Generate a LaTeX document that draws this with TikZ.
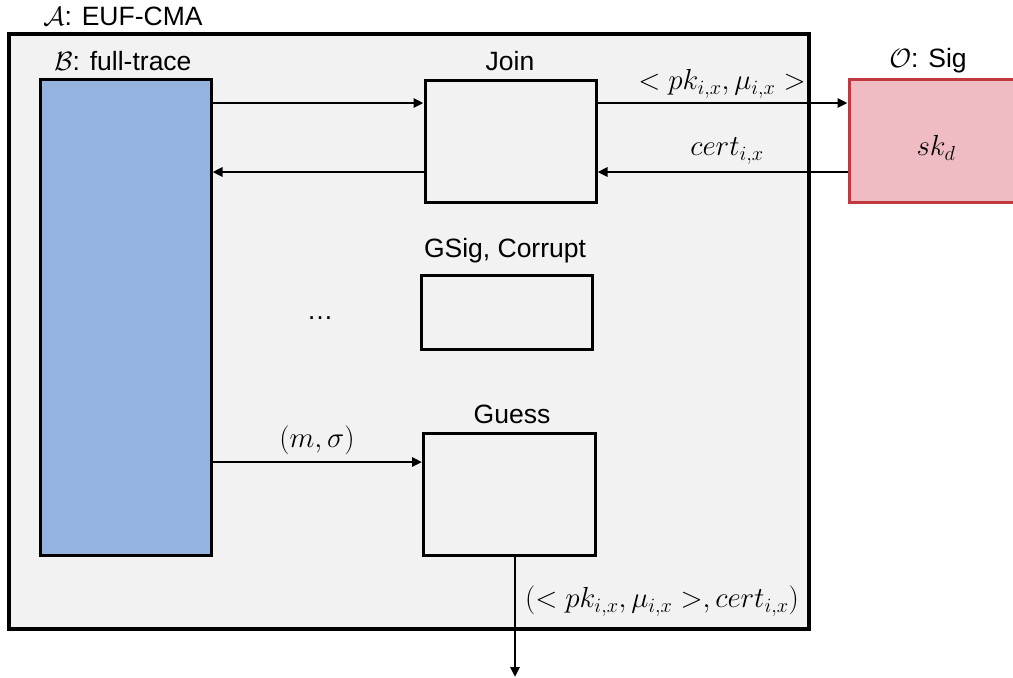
\RequirePackage{fix-cm}
\documentclass[tikz,border=0pt]{standalone}
\usepackage{fontspec}
\setmainfont{Liberation Sans}
\usetikzlibrary{arrows.meta,calc}
\definecolor{bgray}{HTML}{F2F2F2}
\definecolor{bblue}{HTML}{95B3DF}
\definecolor{opink}{HTML}{EFBCC4}
\definecolor{ored}{HTML}{C0393F}
\begin{document}
\begin{tikzpicture}[x=1pt,y=-1pt,
  box/.style={draw=black,line width=3pt,inner sep=0pt},
  lbl/.style={font=\fontsize{26.5}{30}\selectfont,inner sep=0pt},
  mlbl/.style={font=\fontsize{29}{32}\selectfont,inner sep=0pt},
  arr/.style={-{Triangle[length=10pt,width=9pt]},line width=2.8pt},
]
\useasboundingbox (0,0) rectangle (1013,678);
\node[box,fill=bgray,line width=3.2pt,minimum width=800pt,minimum height=595pt] (outer) at (409,331.5) {};
\node[box,fill=bblue,minimum width=171pt,minimum height=476pt] (blue) at (125.5,317) {};
\node[box,minimum width=171pt,minimum height=122pt] (join) at (510.5,141) {};
\node[box,draw=ored,fill=opink,minimum width=167pt,minimum height=123pt] (orc) at (932.5,140.5) {};
\node[mlbl] (sk) at (936,148) {$sk_d$};
\node[box,minimum width=171pt,minimum height=74pt] (gsig) at (506.5,312) {};
\node[box,minimum width=172pt,minimum height=122pt] (guess) at (509.5,494) {};

\node[lbl] (title) at (123,16.5) {$\mathcal{A}$: EUF-CMA};
\node[lbl] (blbl) at (123,61) {$\mathcal{B}$: full-trace};
\node[lbl] (jlbl) at (510,61) {Join};
\node[lbl] (olbl) at (928,61) {$\mathcal{O}$: Sig};
\node[lbl] (glbl) at (505,251) {GSig, Corrupt};
\node[lbl] (gulbl) at (512,414) {Guess};
\node[lbl] (dots) at (320,318) {\dots};

\draw[arr] (blue.east |- 0,103) -- (join.west |- 0,103);
\draw[arr] (join.west |- 0,172) -- (blue.east |- 0,172);
\draw[arr] (join.east |- 0,103) -- (orc.west |- 0,103);
\draw[arr] (orc.west |- 0,172) -- (join.east |- 0,172);
\draw[arr] (blue.east |- 0,462) -- (guess.west |- 0,462);
\coordinate (out) at (515,677);
\draw[arr] (guess.south -| out) -- (out);

\node[mlbl] (l1) at (722,84) {$<pk_{i,x},\mu_{i,x}>$};
\node[mlbl] (l2) at (727,151) {$cert_{i,x}$};
\node[mlbl] (l3) at (317,440) {$(m,\sigma)$};
\node[mlbl] (l4) at (662,601) {$(<pk_{i,x},\mu_{i,x}>,cert_{i,x})$};
\end{tikzpicture}
\end{document}
